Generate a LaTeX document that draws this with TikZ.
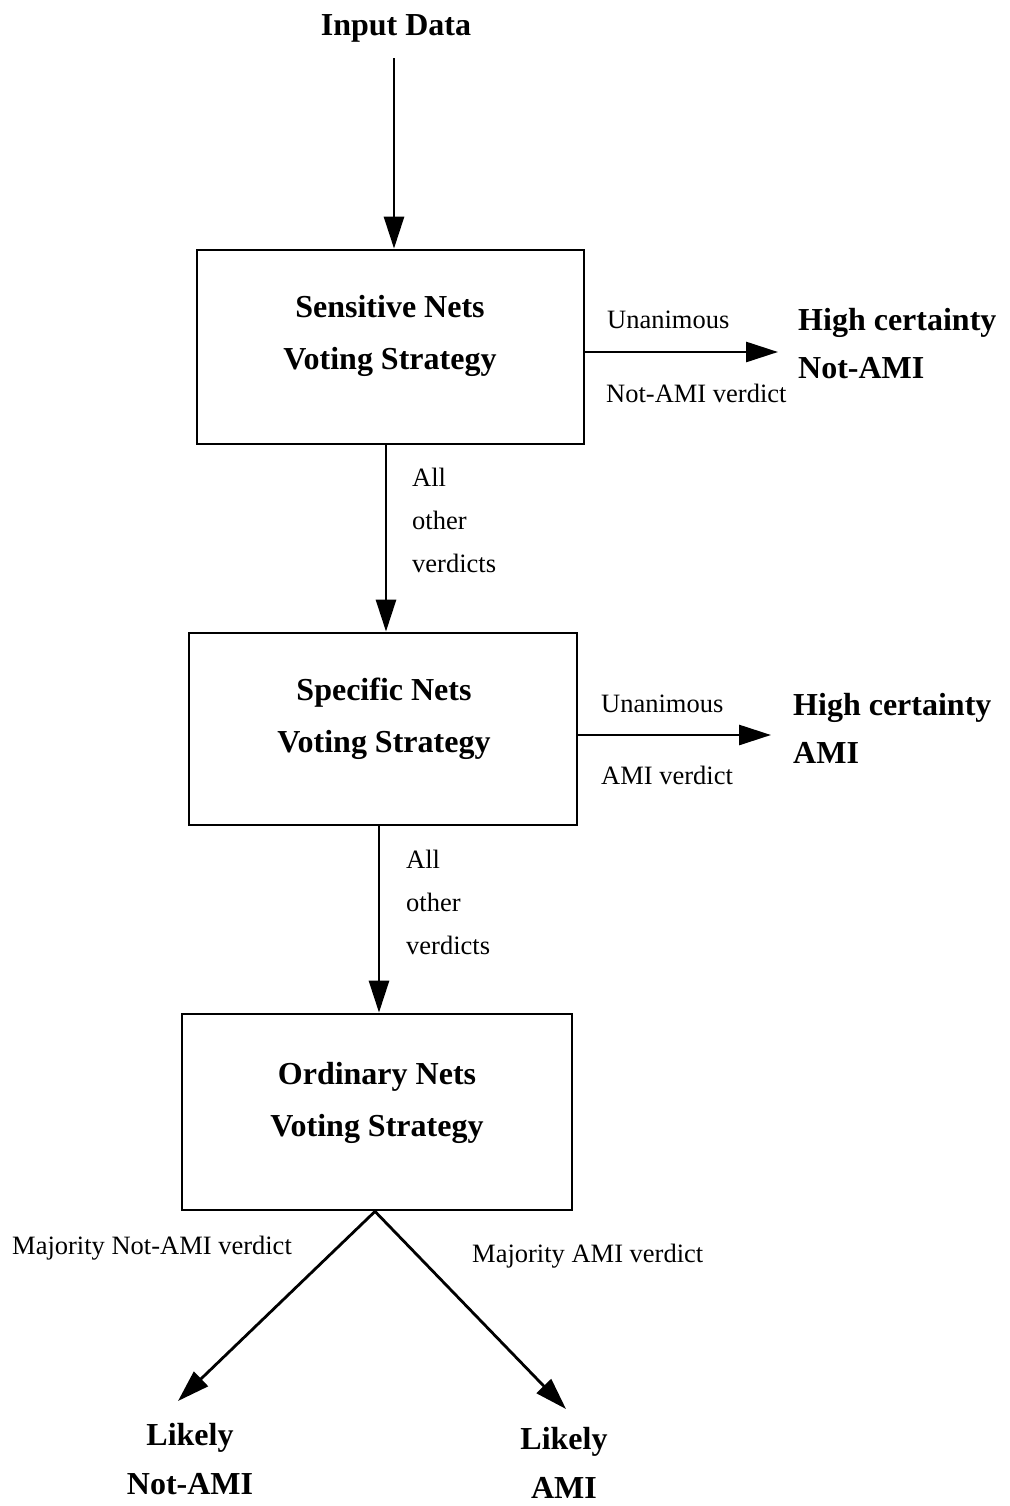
\documentclass[tikz,border=0pt]{standalone}
\usepackage{fontspec}
\setmainfont{Liberation Serif}
\usetikzlibrary{arrows.meta}
\begin{document}
\begin{tikzpicture}[x=1pt,y=-1pt,
  boxst/.style={draw, line width=2.8pt, rectangle, inner sep=0pt},
  titlest/.style={font=\bfseries\fontsize{32}{52}\selectfont, align=center, inner sep=0pt},
  headst/.style={font=\bfseries\fontsize{32}{48}\selectfont, align=left, inner sep=0pt},
  outst/.style={font=\bfseries\fontsize{32}{49}\selectfont, align=center, inner sep=0pt},
  labst/.style={font=\fontsize{26.5}{43}\selectfont, inner sep=0pt},
  arr/.style={line width=2.8pt, -{Triangle[length=32pt,width=20pt]}}]
\useasboundingbox (0,0) rectangle (1009,1506);
% top input
\node[titlest, font=\bfseries\fontsize{32}{40}\selectfont] (in) at (396,28) {Input Data};
% boxes
\node[boxst, minimum width=387pt, minimum height=194pt] (box1) at (390.5,347) {};
\node[boxst, minimum width=388pt, minimum height=192pt] (box2) at (383,729) {};
\node[boxst, minimum width=390pt, minimum height=196pt] (box3) at (377,1112) {};
\node[titlest] (t1) at (390,336) {Sensitive Nets\\Voting Strategy};
\node[titlest] (t2) at (384,719) {Specific Nets\\Voting Strategy};
\node[titlest] (t3) at (377,1103) {Ordinary Nets\\Voting Strategy};
% right outcomes
\node[headst, anchor=west] (hc1) at (798,344) {High certainty\\Not-AMI};
\node[headst, anchor=west] (hc2) at (793,728) {High certainty\\AMI};
% bottom outcomes
\node[outst] (ln) at (190,1459) {Likely\\Not-AMI};
\node[outst] (la) at (564,1463) {Likely\\AMI};
% labels
\node[labst, anchor=west] (u1) at (607,320) {Unanimous};
\node[labst, anchor=west] (v1) at (606,393) {Not-AMI verdict};
\node[labst, anchor=west] (u2) at (601,704) {Unanimous};
\node[labst, anchor=west] (v2) at (601,775) {AMI verdict};
\node[labst, anchor=west, align=left] (o1) at (412,520) {All\\other\\verdicts};
\node[labst, anchor=west, align=left] (o2) at (406,902) {All\\other\\verdicts};
\node[labst, anchor=west] (m1) at (12,1248) {Majority Not-AMI verdict};
\node[labst, anchor=west] (m2) at (472,1256) {Majority AMI verdict};
% connectors
\coordinate (tipL) at (178,1401);
\coordinate (tipR) at (566,1409);
\draw[arr, shorten <=16pt] ([xshift=-2pt]in.south) -- ([xshift=-2pt]in.south |- box1.north);
\draw[arr] ([xshift=3pt]box2.north |- box1.south) -- ([xshift=3pt]box2.north);
\draw[arr] ([xshift=2pt]box3.north |- box2.south) -- ([xshift=2pt]box3.north);
\draw[arr, shorten >=20pt] ([yshift=-5pt]box1.east) -- ([yshift=-5pt]hc1.west |- box1.east);
\draw[arr, shorten >=22pt] ([yshift=-6pt]box2.east) -- ([yshift=-6pt]hc2.west |- box2.east);
\draw[arr] ([xshift=-2pt]box3.south) -- (tipL);
\draw[arr] ([xshift=-2pt]box3.south) -- (tipR);
\end{tikzpicture}
\end{document}
